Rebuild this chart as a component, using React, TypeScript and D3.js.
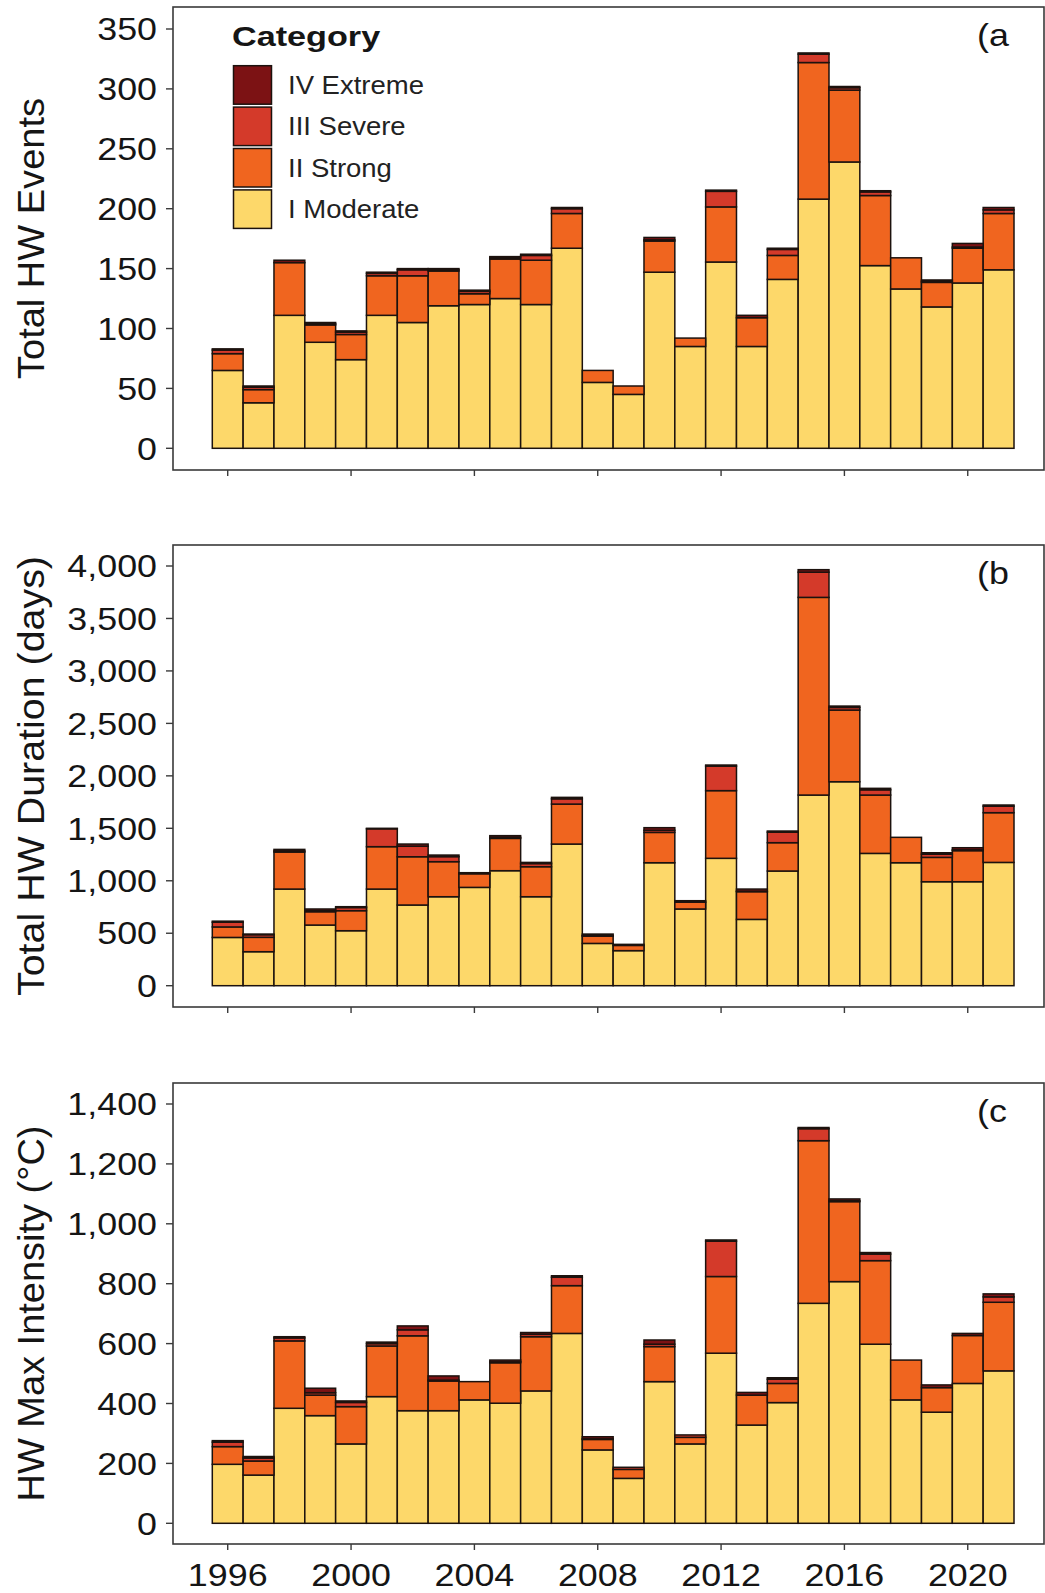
import React from 'react';
import * as d3 from 'd3';

const years = [1996, 1997, 1998, 1999, 2000, 2001, 2002, 2003, 2004, 2005, 2006, 2007, 2008, 2009, 2010, 2011, 2012, 2013, 2014, 2015, 2016, 2017, 2018, 2019, 2020, 2021];
const xTickYears = [1996, 2000, 2004, 2008, 2012, 2016, 2020];

const categories = ['I Moderate', 'II Strong', 'III Severe', 'IV Extreme'];
const legendOrder = ['IV Extreme', 'III Severe', 'II Strong', 'I Moderate'];
const categoryColors = ['#FDD86A', '#F0651F', '#D43A2A', '#7C1214'];

// Panel (a) Total HW Events
const eventsModerate = [65, 38, 111, 88.5, 74, 111, 105, 119, 120, 125, 120, 167, 55, 45, 147, 85, 155.5, 85, 141, 208, 239, 152.5, 133, 118, 138, 149];
const eventsStrong = [14, 11, 44, 14.5, 21, 33, 39, 29, 9, 33, 37, 29, 10, 7, 26, 7, 46, 24, 20, 114, 60, 58.5, 26, 20.5, 29, 47];
const eventsSevere = [3, 2, 0, 1, 2, 2, 5, 1, 2, 1, 4, 4, 0, 0, 1, 0, 13, 0, 5, 7, 2, 3, 0, 1, 1, 3];
const eventsExtreme = [1, 1, 2, 1, 1, 1, 1, 1, 1, 1, 1, 1, 0, 0, 2, 0, 1, 2, 1, 1, 1, 1, 0, 1, 3, 2];

// Panel (b) Total HW Duration (days)
const durationModerate = [460, 324, 921, 578, 524, 921, 769, 848, 937, 1096, 848, 1350, 403, 334, 1172, 731, 1214, 632, 1093, 1817, 1944, 1261, 1172, 991, 991, 1175];
const durationStrong = [100, 137, 353, 127, 191, 404, 460, 334, 130, 308, 286, 381, 70, 50, 289, 65, 645, 264, 270, 1884, 683, 556, 242, 232, 296, 474];
const durationSevere = [45, 25, 10, 10, 30, 170, 100, 48, 5, 10, 30, 50, 5, 10, 20, 14, 234, 5, 100, 240, 25, 50, 0, 30, 8, 62];
const durationExtreme = [10, 6, 15, 16, 8, 5, 21, 15, 5, 16, 11, 14, 14, 0, 25, 0, 10, 20, 11, 24, 13, 14, 0, 14, 20, 11];

// Panel (c) HW Max Intensity (°C)
const intensityModerate = [197, 161, 384, 359.5, 265, 423, 376, 376, 412, 401, 442, 634, 245, 150, 473, 265, 568, 328, 403, 734.5, 807, 598, 412, 371, 467, 509];
const intensityStrong = [59, 47, 225, 68.5, 124.5, 169, 250, 99, 61, 135, 181, 159.5, 35, 30, 117, 22, 256, 100, 64, 543, 267, 279, 133, 82, 160, 229];
const intensitySevere = [15, 10, 10, 8, 14, 8, 20, 3, 0, 3, 8, 28, 2, 7, 8, 8, 118, 0, 14, 40, 3, 22, 0, 0, 0, 18];
const intensityExtreme = [5, 5, 4, 15, 5, 5, 13, 14, 0, 6, 6, 5, 7, 0, 14, 0, 4, 9, 5, 4, 6, 5, 0, 9, 7, 10];

const yTicksA = [0, 50, 100, 150, 200, 250, 300, 350];
const yTicksB = [0, 500, 1000, 1500, 2000, 2500, 3000, 3500, 4000];
const yTicksC = [0, 200, 400, 600, 800, 1000, 1200, 1400];

const FONT = '"Liberation Sans", Arial, Helvetica, sans-serif';
const STRETCH = 1.12;
const W = 1045;
const H = 1593;
const BOX_LEFT = 173;
const BOX_RIGHT = 1044;

const xScale = d3.scaleBand<number>().domain(years).range([212.3, 1014]).padding(0);

type PanelDef = {
  top: number;
  bottom: number;
  ticks: number[];
  yRange: [number, number];
  series: number[][];
  title: string;
  titleLen: number;
  label: string;
  showXLabels: boolean;
  legend: boolean;
};

const panels: PanelDef[] = [
  {
    top: 7, bottom: 470, ticks: yTicksA, yRange: [448.3, 29],
    series: [eventsModerate, eventsStrong, eventsSevere, eventsExtreme],
    title: 'Total HW Events', titleLen: 281, label: '(a', showXLabels: false, legend: true,
  },
  {
    top: 545, bottom: 1007, ticks: yTicksB, yRange: [985.7, 566],
    series: [durationModerate, durationStrong, durationSevere, durationExtreme],
    title: 'Total HW Duration (days)', titleLen: 440, label: '(b', showXLabels: false, legend: false,
  },
  {
    top: 1083, bottom: 1544, ticks: yTicksC, yRange: [1523.3, 1104],
    series: [intensityModerate, intensityStrong, intensitySevere, intensityExtreme],
    title: 'HW Max Intensity (°C)', titleLen: 376, label: '(c', showXLabels: true, legend: false,
  },
];

const fmt = d3.format(',');

function Panel({ p }: { p: PanelDef }) {
  const maxTick = p.ticks[p.ticks.length - 1];
  const y = d3.scaleLinear().domain([0, maxTick]).range(p.yRange);
  const rows = years.map((yr, i) => {
    const r: any = { year: yr };
    categories.forEach((c, k) => { r[c] = p.series[k][i]; });
    return r;
  });
  const stacked = d3.stack<any>().keys(categories)(rows);
  const bw = xScale.bandwidth();
  const cy = (p.top + p.bottom) / 2;
  return (
    <g>
      {stacked.map((layer, k) => (
        <g key={layer.key} fill={categoryColors[k]}>
          {layer.map((d, i) => {
            const v = d[1] - d[0];
            if (v <= 0) return null;
            const x0 = xScale(years[i]) as number;
            return (
              <rect key={i} x={x0} y={y(d[1])} width={bw} height={y(d[0]) - y(d[1])}
                stroke="#1c120e" strokeWidth={1.5} />
            );
          })}
        </g>
      ))}
      <rect x={BOX_LEFT} y={p.top} width={BOX_RIGHT - BOX_LEFT} height={p.bottom - p.top}
        fill="none" stroke="#3a3a3a" strokeWidth={1.6} />
      {p.ticks.map((t) => (
        <g key={t}>
          <line x1={166} x2={BOX_LEFT} y1={y(t)} y2={y(t)} stroke="#3a3a3a" strokeWidth={1.4} />
          <text transform={`translate(157,${y(t)}) scale(${STRETCH},1)`} textAnchor="end" dy="0.35em"
            fontFamily={FONT} fontSize={32} fill="#151515">{fmt(t)}</text>
        </g>
      ))}
      {xTickYears.map((yr) => {
        const cx = (xScale(yr) as number) + bw / 2;
        return (
          <g key={yr}>
            <line x1={cx} x2={cx} y1={p.bottom} y2={p.bottom + 6} stroke="#3a3a3a" strokeWidth={1.4} />
            {p.showXLabels && (
              <text transform={`translate(${cx},${1586}) scale(${STRETCH},1)`} textAnchor="middle"
                fontFamily={FONT} fontSize={32} fill="#151515">{yr}</text>
            )}
          </g>
        );
      })}
      <text transform={`translate(44,${cy}) rotate(-90)`} textAnchor="middle" fontFamily={FONT}
        fontSize={36} fill="#151515" textLength={p.titleLen} lengthAdjust="spacingAndGlyphs">{p.title}</text>
      <text transform={`translate(977,${p.top + 39}) scale(${STRETCH},1)`} fontFamily={FONT}
        fontSize={32} fill="#151515">{p.label}</text>
      {p.legend && (
        <g>
          <text transform={`translate(232,45.5) scale(1.2,1)`} fontFamily={FONT} fontWeight="bold"
            fontSize={28.5} fill="#151515">Category</text>
          {legendOrder.map((c, i) => {
            const k = categories.indexOf(c);
            const ty = 65.7 + i * 41.4;
            return (
              <g key={c}>
                <rect x={233.5} y={ty} width={38} height={38.5} fill={categoryColors[k]}
                  stroke="#1c120e" strokeWidth={1.5} />
                <text transform={`translate(288,${ty + 19.25 + 9}) scale(1.1,1)`} fontFamily={FONT}
                  fontSize={25} fill="#222">{c}</text>
              </g>
            );
          })}
        </g>
      )}
    </g>
  );
}

export default function App() {
  return (
    <div style={{ position: 'absolute', left: 0, top: 0 }}>
      <svg width={W} height={H} viewBox={`0 0 ${W} ${H}`} style={{ display: 'block', background: '#fff' }}>
        <rect x={0} y={0} width={W} height={H} fill="#fff" />
        {panels.map((p, i) => <Panel key={i} p={p} />)}
      </svg>
    </div>
  );
}
